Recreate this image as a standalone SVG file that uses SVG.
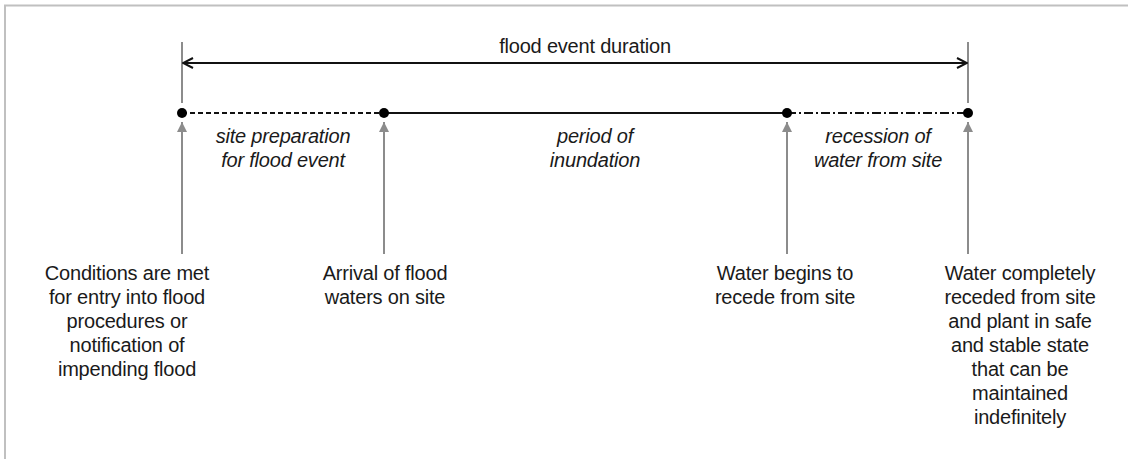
<svg xmlns="http://www.w3.org/2000/svg" width="1128" height="459" viewBox="0 0 1128 459">
<style>
  .lbl { font-family: "Liberation Sans", Arial, sans-serif; font-size: 20px; fill: #1a1a1a; text-anchor: middle; letter-spacing: -0.2px; }
  .it { font-style: italic; }
  .gray { stroke: #8c8c8c; stroke-width: 2; fill: none; }
  .blk { stroke: #111; stroke-width: 2; fill: none; }
</style>
<defs>
  <marker id="open" viewBox="0 0 12 12" refX="11" refY="6" markerWidth="12" markerHeight="12" markerUnits="userSpaceOnUse" orient="auto-start-reverse">
    <path d="M1,1 L11,6 L1,11" fill="none" stroke="#111" stroke-width="2"/>
  </marker>
  <marker id="tri" viewBox="0 0 10 10" refX="10" refY="5" markerWidth="10" markerHeight="10" markerUnits="userSpaceOnUse" orient="auto">
    <path d="M0,0 L10,5 L0,10 Z" fill="#8c8c8c"/>
  </marker>
</defs>
<rect width="1128" height="459" fill="#fff"/>
<path d="M5,459 L5,5.5 L1128,5.5" fill="none" stroke="#c0c0c0" stroke-width="2"/>

<g id="connectors">
  <line class="gray" x1="182" y1="42" x2="182" y2="103"/>
  <line class="gray" x1="968" y1="42" x2="968" y2="103"/>
  <line class="blk" x1="183" y1="63" x2="967" y2="63" marker-start="url(#open)" marker-end="url(#open)"/>
  <line class="blk" x1="182" y1="113" x2="384" y2="113" stroke-dasharray="5,3"/>
  <line class="blk" x1="384" y1="113" x2="787" y2="113"/>
  <line class="blk" x1="787" y1="113" x2="968" y2="113" stroke-dasharray="9,3,2,3" stroke="#333"/>
  <line class="gray" x1="182" y1="254" x2="182" y2="122" marker-end="url(#tri)"/>
  <line class="gray" x1="384" y1="254" x2="384" y2="122" marker-end="url(#tri)"/>
  <line class="gray" x1="787" y1="254" x2="787" y2="122" marker-end="url(#tri)"/>
  <line class="gray" x1="968" y1="254" x2="968" y2="122" marker-end="url(#tri)"/>
</g>

<g id="dots" fill="#000">
  <circle cx="182" cy="113" r="5"/>
  <circle cx="384" cy="113" r="5"/>
  <circle cx="787" cy="113" r="5"/>
  <circle cx="968" cy="113" r="5"/>
</g>

<g id="duration"><text class="lbl" x="585" y="53">flood event duration</text></g>

<g id="phase-prep"><text class="lbl it" x="283" y="143">site preparation<tspan x="283" dy="24">for flood event</tspan></text></g>
<g id="phase-inundation"><text class="lbl it" x="595" y="143">period of<tspan x="595" dy="24">inundation</tspan></text></g>
<g id="phase-recession"><text class="lbl it" x="878" y="143">recession of<tspan x="878" dy="24">water from site</tspan></text></g>

<g id="event-start"><text class="lbl" x="127" y="280">Conditions are met<tspan x="127" dy="24">for entry into flood</tspan><tspan x="127" dy="24">procedures or</tspan><tspan x="127" dy="24">notification of</tspan><tspan x="127" dy="24">impending flood</tspan></text></g>
<g id="event-arrival"><text class="lbl" x="385" y="280">Arrival of flood<tspan x="385" dy="24">waters on site</tspan></text></g>
<g id="event-recede"><text class="lbl" x="785" y="280">Water begins to<tspan x="785" dy="24">recede from site</tspan></text></g>
<g id="event-end"><text class="lbl" x="1020" y="280">Water completely<tspan x="1020" dy="24">receded from site</tspan><tspan x="1020" dy="24">and plant in safe</tspan><tspan x="1020" dy="24">and stable state</tspan><tspan x="1020" dy="24">that can be</tspan><tspan x="1020" dy="24">maintained</tspan><tspan x="1020" dy="24">indefinitely</tspan></text></g>
</svg>
